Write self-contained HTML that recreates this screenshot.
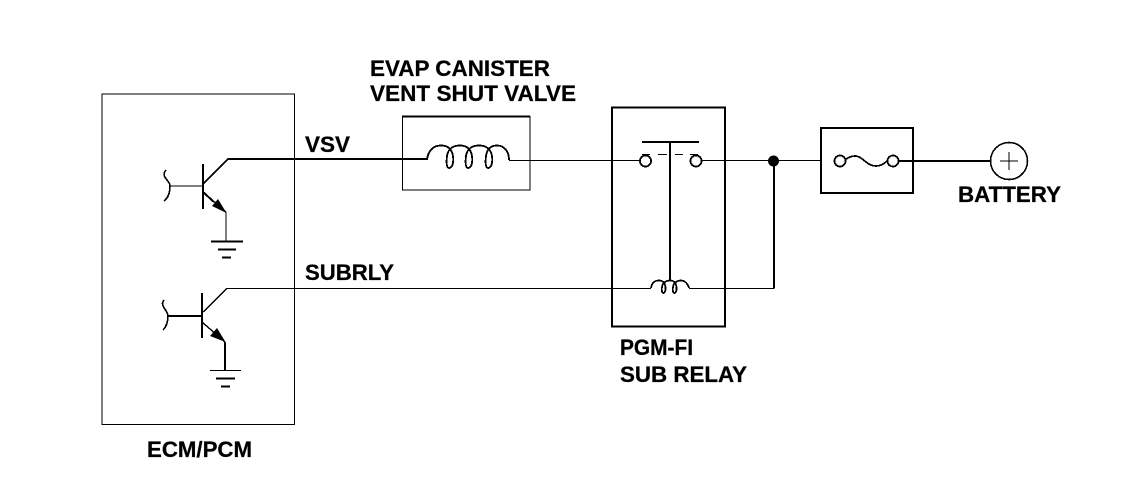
<!DOCTYPE html>
<html>
<head>
<meta charset="utf-8">
<style>
html,body{margin:0;padding:0;background:#fff;width:1136px;height:500px;overflow:hidden}
svg{display:block}
text{font-family:"Liberation Sans",Arial,sans-serif;font-weight:bold;font-size:22px;fill:#000;stroke:#000;stroke-width:.25px}
</style>
</head>
<body>
<svg width="1136" height="500" viewBox="0 0 1136 500" xmlns="http://www.w3.org/2000/svg">
<rect width="1136" height="500" fill="#fff"/>
<g fill="none" stroke="#000" stroke-width="1.4" shape-rendering="crispEdges">
  <!-- boxes -->
  <rect x="102" y="94" width="192.500" height="330.500" stroke-width="1.400"/>
  <rect x="402.500" y="116.500" width="127.500" height="73.500" stroke-width="1.400"/>
  <path d="M402 116.500H530" stroke-width="2"/>
  <rect x="612" y="107.500" width="113" height="219" stroke-width="2"/>
  <rect x="821" y="128" width="92" height="65" stroke-width="2"/>

  <!-- transistor 1 -->
  <path d="M203 164V209" stroke-width="2"/>
  <path d="M170 186H203"/>
  <path d="M166 170C160 177 170 180 170 186C170 193 168 198 164 201" stroke-width="1.600"/>
  <path d="M203 184L228 159H427" stroke-width="2"/>
  <path d="M203 192L226 212V241"/>
  <path d="M203 192L214 202" stroke-width="2"/>
  <path d="M211 241.500H243" stroke-width="2"/>
  <path d="M218 249.500H236" stroke-width="2"/>
  <path d="M222 257.500H231" stroke-width="2"/>

  <!-- transistor 2 -->
  <path d="M202 293V338" stroke-width="2"/>
  <path d="M168 316H202" stroke-width="2"/>
  <path d="M164 300C159 306 168 310 168 316C168 323 166 327 163 330" stroke-width="1.600"/>
  <path d="M202 313L227 288.500H651"/>
  <path d="M202 322L225 342"/>
  <path d="M225 342V370" stroke-width="2"/>
  <path d="M210 370.500H241"/>
  <path d="M216 378.500H235" stroke-width="2"/>
  <path d="M221 386.500H230" stroke-width="2"/>

  <!-- valve coil -->
  <path d="M427 160C428 150 434 145.500 441 145.500C449 145.500 452 150 453 156C454 166 451 168 449 168C447 168 446 164 447 156C448 149 453 145.500 460 145.500C468 145.500 471 150 472 156C473 166 470 168 468 168C466 168 465 164 466 156C467 149 472 145.500 479 145.500C487 145.500 491 150 492 156C493 166 490 168 488 168C486 168 485 164 486 156C487 149 491 145.500 497 145.500C504 145.500 509 151 509 160" stroke-width="1.800"/>
  <path d="M509 160.500H640"/>

  <!-- relay contacts -->
  <path d="M642 142H699" stroke-width="2"/>
  <path d="M670 142V280" stroke-width="1.800"/>
  <circle cx="645.500" cy="161" r="5.500" stroke-width="1.800"/>
  <circle cx="696" cy="161" r="5.500" stroke-width="1.800"/>
  <path d="M642 154.500H650M658 154.500H667M675 154.500H683M690 154.500H698"/>
  <path d="M702 160.500H821"/>

  <!-- relay coil -->
  <path d="M651 288C652 282 655 280.500 659 280.500C663 280.500 665 283 665.500 287C666 292 664 293 663.500 293C662 293 661.500 291 662 287C662.500 283 666 280.500 670 280.500C674 280.500 676 283 676.500 287C677 292 675 293 674.500 293C673 293 672.500 291 673 287C673.500 283 677 280.500 681 280.500C685 280.500 688 284 689 288" stroke-width="1.700"/>
  <path d="M689 288.500H774"/>
  <path d="M774 161V288.500" stroke-width="2"/>

  <!-- fuse -->
  <circle cx="840" cy="161" r="5.500" stroke-width="1.800"/>
  <circle cx="893" cy="161" r="5.500" stroke-width="1.800"/>
  <path d="M846 159C856 153 860 157 866 162C872 167 880 168 887 161" stroke-width="1.700"/>
  <path d="M899 161H990" stroke-width="2"/>

  <!-- battery -->
  <circle cx="1009" cy="161" r="18.500" stroke-width="1.600"/>
  <path d="M1000 161H1018M1009 152V170"/>
</g>

<!-- arrowheads and junction -->
<path d="M212 206L218 199L226.500 213Z" fill="#000"/>
<path d="M210 336L217 328L225.500 342Z" fill="#000"/>
<circle cx="773.500" cy="161" r="5.500" fill="#000"/>

<!-- labels -->
<text x="370" y="76" textLength="180" lengthAdjust="spacingAndGlyphs">EVAP CANISTER</text>
<text x="370" y="101" textLength="206" lengthAdjust="spacingAndGlyphs">VENT SHUT VALVE</text>
<text x="305" y="152" textLength="45" lengthAdjust="spacingAndGlyphs">VSV</text>
<text x="305" y="280" textLength="89" lengthAdjust="spacingAndGlyphs">SUBRLY</text>
<text x="620" y="355" textLength="73" lengthAdjust="spacingAndGlyphs">PGM-FI</text>
<text x="620" y="382" textLength="127" lengthAdjust="spacingAndGlyphs">SUB RELAY</text>
<text x="147" y="457" textLength="105" lengthAdjust="spacingAndGlyphs">ECM/PCM</text>
<text x="958" y="202" textLength="103" lengthAdjust="spacingAndGlyphs">BATTERY</text>
</svg>
</body>
</html>
